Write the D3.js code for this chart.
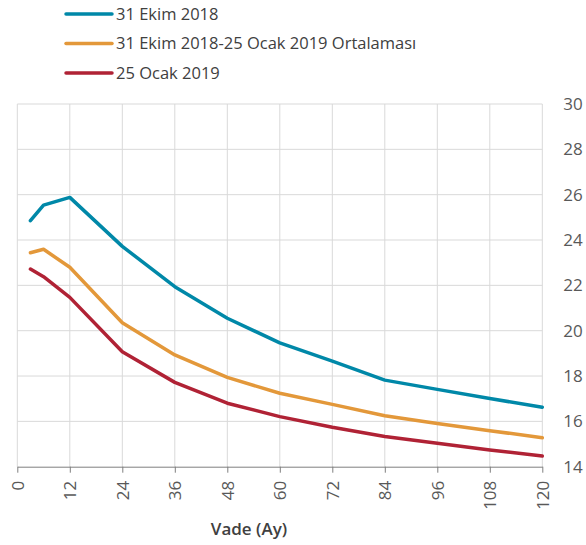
<!DOCTYPE html>
<html><head><meta charset="utf-8">
<script src="https://cdn.jsdelivr.net/npm/d3@7"></script>
<style>body{margin:0;background:#fff}</style>
</head><body><svg id="c" width="586" height="545"></svg>
<script>
const maturities = [3, 6, 12, 24, 36, 48, 60, 72, 84, 96, 108, 120];
const seriesNames = ["31 Ekim 2018", "31 Ekim 2018-25 Ocak 2019 Ortalaması", "25 Ocak 2019"];
const ekim2018 = [24.85, 25.54, 25.88, 23.72, 21.94, 20.55, 19.46, 18.66, 17.82, 17.41, 17.01, 16.62];
const ortalama = [23.44, 23.59, 22.80, 20.35, 18.93, 17.94, 17.24, 16.75, 16.25, 15.91, 15.59, 15.28];
const ocak2019 = [22.72, 22.38, 21.47, 19.07, 17.72, 16.80, 16.21, 15.74, 15.33, 15.03, 14.74, 14.47];
const xTicks = [0, 12, 24, 36, 48, 60, 72, 84, 96, 108, 120];
const yTicks = [14, 16, 18, 20, 22, 24, 26, 28, 30];
const colors = ["#0088a8", "#e3983a", "#b02235"];

const svg = d3.select("#c");
const font = "'Open Sans', sans-serif";
const x = d3.scaleLinear().domain([0, 120]).range([17.3, 542.3]);
const y = d3.scaleLinear().domain([14, 30]).range([466.7, 104]);

// grid
svg.append("g").selectAll("line").data(yTicks.slice(1)).join("line")
  .attr("x1", x(0)).attr("x2", x(120)).attr("y1", d => y(d)).attr("y2", d => y(d))
  .attr("stroke", "#d9d9d9").attr("stroke-width", 1);
svg.append("g").selectAll("line").data(xTicks).join("line")
  .attr("x1", d => x(d)).attr("x2", d => x(d)).attr("y1", y(30)).attr("y2", y(14))
  .attr("stroke", "#d9d9d9").attr("stroke-width", 1);

// x axis
const xa = svg.append("g").attr("transform", `translate(0,${y(14)})`)
  .call(d3.axisBottom(x).tickValues(xTicks).tickSize(6).tickSizeOuter(0).tickFormat(d3.format("d")));
xa.select(".domain").attr("stroke", "#7f7f7f");
xa.selectAll(".tick line").attr("stroke", "#7f7f7f");
xa.selectAll(".tick text")
  .attr("transform", "rotate(-90)").attr("text-anchor", "end")
  .attr("x", -14).attr("y", 0).attr("dy", "0.35em")
  .attr("fill", "#595959").style("font-family", font).style("font-size", "17px");

// y axis right
const ya = svg.append("g").attr("transform", `translate(${x(120)},0)`)
  .call(d3.axisRight(y).tickValues(yTicks).tickSize(0).tickFormat(d3.format("d")));
ya.select(".domain").remove();
ya.selectAll(".tick text").attr("x", 21).attr("fill", "#595959")
  .style("font-family", font).style("font-size", "17px");

// lines
const allSeries = [ekim2018, ortalama, ocak2019];
const line = d3.line().x((d, i) => x(maturities[i])).y(d => y(d));
allSeries.forEach((s, k) => {
  svg.append("path").datum(s).attr("d", line).attr("fill", "none")
    .attr("stroke", colors[k]).attr("stroke-width", 3.5)
    .attr("stroke-linejoin", "round").attr("stroke-linecap", "round");
});

// legend
const legY = [14, 43.5, 73];
seriesNames.forEach((n, k) => {
  const g = svg.append("g");
  g.append("line").attr("x1", 66).attr("x2", 112).attr("y1", legY[k]).attr("y2", legY[k])
    .attr("stroke", colors[k]).attr("stroke-width", 3.5).attr("stroke-linecap", "round");
  g.append("text").attr("x", 116).attr("y", legY[k]).attr("dy", "0.35em")
    .attr("fill", "#404040").style("font-family", font).style("font-size", "16.5px").text(n);
});

// axis title
svg.append("text").attr("x", 249).attr("y", 535).attr("text-anchor", "middle")
  .attr("fill", "#404040").style("font-family", font).style("font-size", "17px")
  .style("font-weight", "600").text("Vade (Ay)");
</script></body></html>
